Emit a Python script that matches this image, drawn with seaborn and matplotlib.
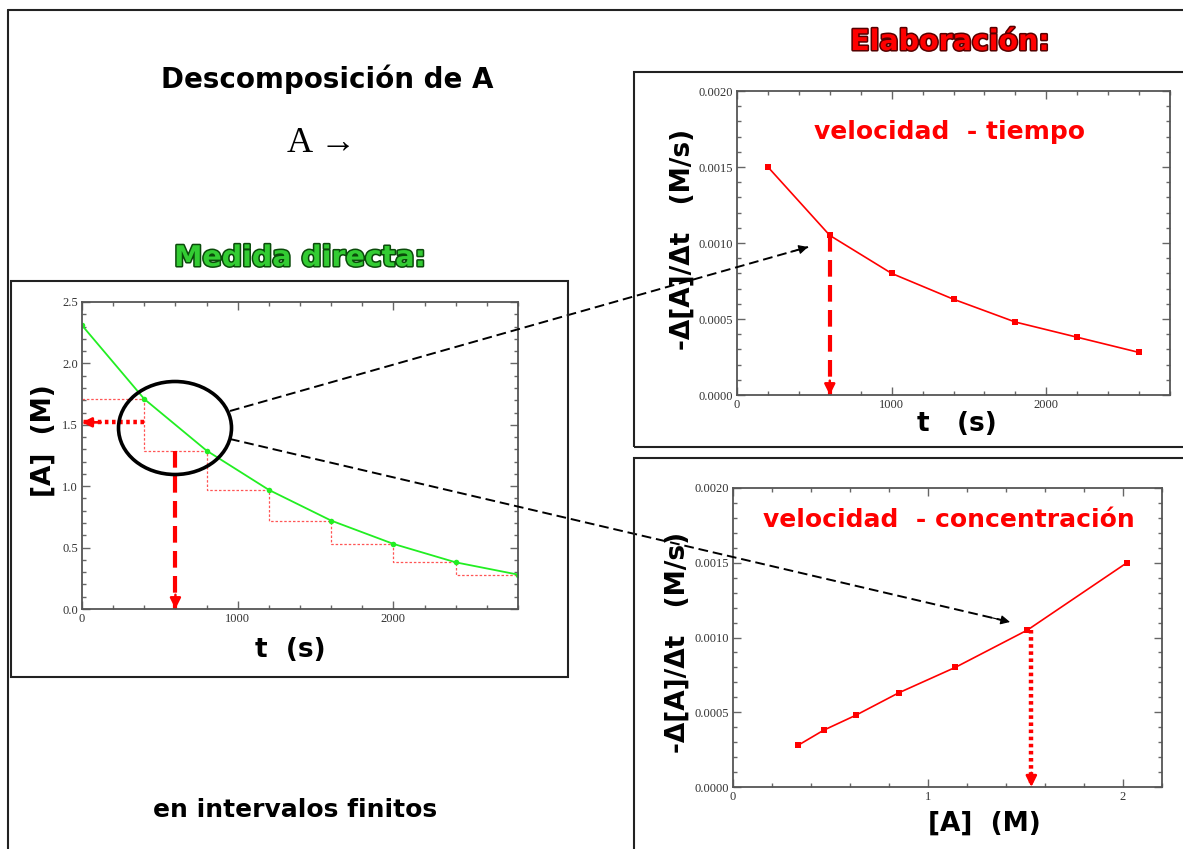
import numpy as np
import pandas as pd
import matplotlib
matplotlib.use("Agg")
import matplotlib.pyplot as plt
import seaborn as sns
from matplotlib.patches import Rectangle, Ellipse, FancyArrowPatch
from matplotlib.lines import Line2D
from matplotlib.ticker import MultipleLocator, FormatStrFormatter
import matplotlib.patheffects as pe

# ---------------- data ----------------
t_s = [0, 400, 800, 1200, 1600, 2000, 2400, 2800]
conc_M = [2.31, 1.71, 1.29, 0.97, 0.72, 0.53, 0.38, 0.28]
t_mid_s = [200, 600, 1000, 1400, 1800, 2200, 2600]
rate_Ms = [0.0015, 0.00105, 0.0008, 0.00063, 0.00048, 0.00038, 0.00028]
conc_mid_M = [2.02, 1.51, 1.14, 0.85, 0.63, 0.465, 0.335]
t_sel = 600
conc_sel = 1.52
rate_sel = 0.00105
conc_at_sel = 1.53
step_y = conc_M[1:] + [conc_M[-1]]

sns.set_theme(style="white")
plt.rcParams['font.family'] = ['DejaVu Sans']

W, H = 1183, 849
fig = plt.figure(figsize=(W / 100, H / 100), dpi=100)
fig.patch.set_facecolor("white")


def fx(x):
    return x / W


def fy(y):
    return 1 - y / H


def add_axes_px(x0, y0, x1, y1):
    return fig.add_axes([fx(x0), fy(y1), fx(x1) - fx(x0), fy(y0) - fy(y1)])


SERIF = ['Liberation Serif', 'DejaVu Serif']
RED = '#ff0000'
GREEN = '#22ee22'
FRAME = '#222222'


def style_axes(ax, xmaj, xmin, ymaj, ymin, yfmt, xfmt):
    ax.set_facecolor('white')
    for s in ax.spines.values():
        s.set_color('#555555')
        s.set_linewidth(1.3)
        s.set_visible(True)
    ax.xaxis.set_major_locator(MultipleLocator(xmaj))
    ax.xaxis.set_minor_locator(MultipleLocator(xmin))
    ax.yaxis.set_major_locator(MultipleLocator(ymaj))
    ax.yaxis.set_minor_locator(MultipleLocator(ymin))
    ax.yaxis.set_major_formatter(FormatStrFormatter(yfmt))
    ax.xaxis.set_major_formatter(FormatStrFormatter(xfmt))
    ax.tick_params(which='both', direction='in', top=True, right=True,
                   bottom=True, left=True, color='#666666', width=1.0,
                   labelsize=9, labelcolor='#333333', pad=3)
    ax.tick_params(which='major', length=6)
    ax.tick_params(which='minor', length=3)
    for lab in ax.get_xticklabels() + ax.get_yticklabels():
        lab.set_family(SERIF)
    ax.grid(False)


def set_labels(ax, xl, yl, xpos, ypos, size=19):
    ax.set_xlabel(xl, fontsize=size, fontweight='bold', color='black')
    ax.set_ylabel(yl, fontsize=size, fontweight='bold', color='black')
    ax.xaxis.set_label_coords(*xpos)
    ax.yaxis.set_label_coords(*ypos)
    ax.xaxis.label.set_va('center')
    ax.yaxis.label.set_va('center')


def dashed_arrow(ax, x0, y0, x1, y1, color, lw, ls, head_frac, ms):
    ax.plot([x0, x1], [y0, y1], color=color, lw=lw, linestyle=ls,
            solid_capstyle='butt', dash_capstyle='butt')
    hx = x1 - (x1 - x0) * head_frac
    hy = y1 - (y1 - y0) * head_frac
    ax.annotate('', xy=(x1, y1), xytext=(hx, hy),
                arrowprops=dict(arrowstyle='-|>', color=color, lw=lw * 0.6,
                                mutation_scale=ms, shrinkA=0, shrinkB=0))


# ---------------- frames ----------------
fig.add_artist(Line2D([fx(8), fx(1183)], [fy(10), fy(10)], color=FRAME, lw=1.5))
fig.add_artist(Line2D([fx(8), fx(8)], [fy(10), fy(849)], color=FRAME, lw=1.5))
fig.add_artist(Rectangle((fx(11), fy(677)), fx(568) - fx(11), fy(281) - fy(677),
                         fill=False, edgecolor=FRAME, lw=1.5, transform=fig.transFigure))
fig.add_artist(Rectangle((fx(634), fy(447)), fx(1190) - fx(634), fy(72) - fy(447),
                         fill=False, edgecolor=FRAME, lw=1.5, transform=fig.transFigure))
fig.add_artist(Rectangle((fx(634), fy(860)), fx(1190) - fx(634), fy(458) - fy(860),
                         fill=False, edgecolor=FRAME, lw=1.5, transform=fig.transFigure))

# ---------------- left plot: [A] vs t ----------------
axL = add_axes_px(82, 302, 518, 609)
df_c = pd.DataFrame({'t': t_s, 'c': conc_M})
df_step = pd.DataFrame({'t': t_s, 'c': step_y})
sns.lineplot(data=df_step, x='t', y='c', ax=axL, color='#ff5555', lw=0.9,
             linestyle=(0, (2, 1.5)), drawstyle='steps-post')
sns.lineplot(data=df_c, x='t', y='c', ax=axL, color=GREEN, lw=1.3,
             marker='o', markersize=4, markeredgewidth=0)
axL.set_xlim(0, 2800)
axL.set_ylim(0, 2.5)
style_axes(axL, 1000, 200, 0.5, 0.1, '%.1f', '%d')
set_labels(axL, 't  (s)', '[A]  (M)', (0.477, -0.135), (-0.088, 0.547))
# red arrows
dashed_arrow(axL, t_s[1], conc_sel, 0, conc_sel, RED, 3.2, (0, (0.8, 0.8)), 0.3, 14)
dashed_arrow(axL, t_sel, conc_M[2], t_sel, 0.0, RED, 3.0, (0, (4, 2)), 0.09, 16)

# ---------------- top-right: rate vs t ----------------
axT = add_axes_px(737, 91, 1170, 395)
df_rt = pd.DataFrame({'t': t_mid_s, 'r': rate_Ms})
sns.lineplot(data=df_rt, x='t', y='r', ax=axT, color=RED, lw=1.2,
             marker='s', markersize=4, markeredgewidth=0)
axT.set_xlim(0, 2800)
axT.set_ylim(0, 0.002)
style_axes(axT, 1000, 200, 0.0005, 0.0001, '%.4f', '%d')
set_labels(axT, 't   (s)', '-Δ[A]/Δt   (M/s)', (0.508, -0.095), (-0.125, 0.513))
axT.text(0.49, 0.865, 'velocidad  - tiempo', transform=axT.transAxes,
         ha='center', va='center', fontsize=18, fontweight='bold', color=RED)
dashed_arrow(axT, t_sel, rate_sel, t_sel, 0.0, RED, 3.0, (0, (4, 2)), 0.09, 16)

# ---------------- bottom-right: rate vs [A] ----------------
axB = add_axes_px(733, 488, 1162, 787)
df_rc = pd.DataFrame({'c': conc_mid_M, 'r': rate_Ms})
sns.lineplot(data=df_rc, x='c', y='r', ax=axB, color=RED, lw=1.2,
             marker='s', markersize=4, markeredgewidth=0, sort=False)
axB.set_xlim(0, 2.2)
axB.set_ylim(0, 0.002)
style_axes(axB, 1, 0.2, 0.0005, 0.0001, '%.4f', '%d')
set_labels(axB, '[A]  (M)', '-Δ[A]/Δt   (M/s)', (0.587, -0.124), (-0.128, 0.485))
axB.text(0.503, 0.893, 'velocidad  - concentración', transform=axB.transAxes,
         ha='center', va='center', fontsize=18, fontweight='bold', color=RED)
dashed_arrow(axB, conc_at_sel, rate_sel, conc_at_sel, 0.0, RED, 3.2, (0, (0.8, 0.8)), 0.09, 16)

# ---------------- circle and linking arrows ----------------
fig.add_artist(Ellipse((fx(175), fy(428)), fx(113), 93 / H, fill=False,
                       edgecolor='black', lw=2.6, transform=fig.transFigure))

ov = fig.add_axes([0, 0, 1, 1], facecolor='none')
ov.set_xlim(0, W)
ov.set_ylim(H, 0)
ov.axis('off')
dashed_arrow(ov, 230, 411, 808, 247, 'black', 1.4, (0, (5, 2.5)), 0.03, 14)
dashed_arrow(ov, 230, 439, 1010, 622, 'black', 1.4, (0, (5, 2.5)), 0.025, 14)

# ---------------- free texts ----------------
fig.text(fx(327), fy(79), 'Descomposición de A', ha='center', va='center',
         fontsize=20, fontweight='bold', color='black')
fig.text(fx(322), fy(143), 'A →', ha='center', va='center', fontsize=26,
         family=SERIF, color='black')
fig.text(fx(300), fy(258), 'Medida directa:', ha='center', va='center',
         fontsize=20.5, fontweight='bold', color='#33cc33',
         path_effects=[pe.withStroke(linewidth=2.2, foreground='#0a4a0a')])
fig.text(fx(950), fy(42), 'Elaboración:', ha='center', va='center',
         fontsize=20.5, fontweight='bold', color=RED,
         path_effects=[pe.withStroke(linewidth=2.2, foreground='#550000')])
fig.text(fx(295), fy(810), 'en intervalos finitos', ha='center', va='center',
         fontsize=18, fontweight='bold', color='black')

fig.savefig('out.png', dpi=100, facecolor='white')
